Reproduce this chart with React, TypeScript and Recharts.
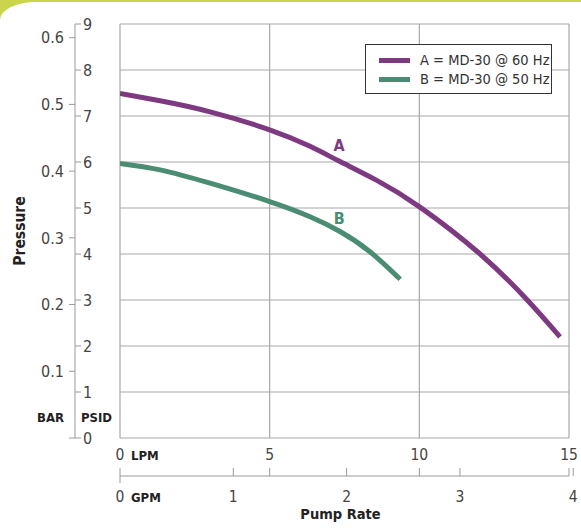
import React from 'react';
import {
  ComposedChart, Line, XAxis, YAxis, CartesianGrid, Legend, ReferenceDot,
} from 'recharts';

// ---- data ----
const lpmTicks = [0, 5, 10, 15];
const gpmTicks = [0, 1, 2, 3, 4];
const psiTicks = [0, 1, 2, 3, 4, 5, 6, 7, 8, 9];
const barTicks = [0, 0.1, 0.2, 0.3, 0.4, 0.5, 0.6];

const lpmA = [0, 1.34, 3.01, 5.0, 6.35, 7.35, 8.58, 10.02, 12.03, 13.59, 14.7];
const psiA = [7.49, 7.33, 7.09, 6.7, 6.34, 6.01, 5.6, 5.02, 4.0, 3.01, 2.2];

const lpmB = [0, 1.34, 3.01, 5.0, 6.35, 7.35, 8.35, 9.36];
const psiB = [5.97, 5.83, 5.54, 5.14, 4.81, 4.49, 4.05, 3.45];

const seriesNames = ['A = MD-30 @ 60 Hz', 'B = MD-30 @ 50 Hz'];
const curveLabels = ['A', 'B'];
const labelPos = [
  { lpm: 7.32, psi: 6.37 },
  { lpm: 7.32, psi: 4.78 },
];

const LPM_PER_GPM = 3.78541;
const PSI_PER_BAR = 14.5038;

const dataA = lpmA.map((l, i) => ({ lpm: l, psi: psiA[i] }));
const dataB = lpmB.map((l, i) => ({ lpm: l, psi: psiB[i] }));
const gpmAxisData = gpmTicks.map((g) => ({ gpm: g }));

const PURPLE = '#7d3a80';
const GREEN = '#4a8d72';
const AXIS = '#9a9a9a';
const TEXT = '#444';
const FONT = '"Liberation Sans Narrow", "Arial Narrow", "DejaVu Sans Condensed", sans-serif';

const PsiTick = (props: any) => {
  const { x, y, payload } = props;
  return (
    <g>
      <line x1={x - 45} x2={x - 39} y1={y} y2={y} stroke={AXIS} />
      <text x={x - 37} y={y + 6} fill={TEXT} fontSize={16} fontFamily={FONT} textAnchor="start">
        {payload.value}
      </text>
    </g>
  );
};

const LpmTick = (props: any) => {
  const { x, y, payload } = props;
  const v = payload.value;
  return (
    <g>
      <text x={x} y={y + 22} fill={TEXT} fontSize={15.5} fontFamily={FONT} textAnchor="middle">
        {v}
      </text>
      {v === 0 && (
        <text x={x + 11} y={y + 22} fill="#222" fontSize={13} fontWeight={700} fontFamily={FONT} textAnchor="start">
          LPM
        </text>
      )}
      {v !== 0 && <line x1={x} x2={x} y1={y + 30} y2={y + 38} stroke={AXIS} />}
    </g>
  );
};

const GpmTick = (props: any) => {
  const { x, y, payload } = props;
  const v = payload.value;
  return (
    <g>
      <line x1={x} x2={x} y1={y - 8} y2={v === 0 ? y + 7 : y} stroke={AXIS} />
      <text x={x} y={y + 25.5} fill={TEXT} fontSize={15.5} fontFamily={FONT} textAnchor="middle">
        {v}
      </text>
      {v === 0 && (
        <text x={x + 11} y={y + 25.5} fill="#222" fontSize={13} fontWeight={700} fontFamily={FONT} textAnchor="start">
          GPM
        </text>
      )}
    </g>
  );
};

const LegendBox = (props: any) => {
  const items = (props.payload || []).filter((p: any) => p.type !== 'none');
  return (
    <div
      style={{
        border: '1px solid #333',
        background: '#fff',
        width: 187,
        height: 50,
        padding: '6px 0 0 13px',
        boxSizing: 'border-box',
        fontFamily: FONT,
        fontSize: 14.5,
        color: '#333',
      }}
    >
      {items.map((p: any, i: number) => (
        <div key={i} style={{ height: 19, lineHeight: '19px', display: 'flex', alignItems: 'center', whiteSpace: 'nowrap' }}>
          <span style={{ display: 'inline-block', width: 31, height: 5, background: p.color, marginRight: 10 }} />
          <span>{p.value}</span>
        </div>
      ))}
    </div>
  );
};

export default function App() {
  return (
    <div style={{ position: 'absolute', left: 0, top: 0, width: 581, height: 529, background: '#c9d64b' }}>
      <div
        style={{
          position: 'absolute', left: 0, top: 2, width: 581, height: 527,
          background: '#fff', borderTopLeftRadius: '36px 18px',
        }}
      />
      <div style={{ position: 'absolute', left: 0, top: 0 }}>
        <ComposedChart width={581} height={529} margin={{ top: 24, right: 12, left: 0, bottom: 0 }}>
          <CartesianGrid xAxisId="a_lpm" yAxisId="a_psi" stroke="#a8a8a8" strokeWidth={1.2} />
          <XAxis
            xAxisId="b_gpm" type="number" dataKey="gpm" domain={[0, 15 / LPM_PER_GPM]} ticks={gpmTicks}
            interval={0} height={53} axisLine={{ stroke: AXIS }} tickLine={false} tickSize={0} tickMargin={0}
            allowDataOverflow tick={<GpmTick />}
            label={{
              content: (p: any) => {
                const vb = p.viewBox;
                return (
                  <text x={vb.x + vb.width / 2 - 4} y={vb.y + 43} textAnchor="middle" fontSize={14.5} fontWeight={700} fontFamily={FONT} fill="#222">
                    Pump Rate
                  </text>
                );
              },
            }}
          />
          <XAxis
            xAxisId="a_lpm" type="number" dataKey="lpm" domain={[0, 15]} ticks={lpmTicks}
            interval={0} height={38} axisLine={false} tickLine={false} tickSize={0} tickMargin={0}
            allowDataOverflow tick={<LpmTick />}
          />
          <YAxis
            yAxisId="b_bar" type="number" domain={[0, 9 / PSI_PER_BAR]} ticks={barTicks} interval={0} width={75}
            axisLine={{ stroke: AXIS }} tickLine={{ stroke: AXIS }} tickSize={6} tickMargin={5} allowDataOverflow
            tickFormatter={(v: number) => (v === 0 ? '' : v.toFixed(1))}
            tick={{ fill: TEXT, fontSize: 16, fontFamily: FONT }}
            label={{
              content: (p: any) => {
                const vb = p.viewBox;
                return (
                  <g>
                    <text x={vb.x + vb.width - 11} y={vb.y + vb.height - 16} textAnchor="end" fontSize={13} fontWeight={700} fontFamily={FONT} fill="#222">
                      BAR
                    </text>
                    <text
                      x={vb.x + 25} y={vb.y + vb.height / 2}
                      transform={`rotate(-90 ${vb.x + 25} ${vb.y + vb.height / 2})`}
                      textAnchor="middle" fontSize={15.5} fontWeight={700} fontFamily={FONT} fill="#222"
                    >
                      Pressure
                    </text>
                  </g>
                );
              },
            }}
          />
          <YAxis
            yAxisId="a_psi" type="number" domain={[0, 9]} ticks={psiTicks} interval={0} width={45}
            axisLine={false} tickLine={false} tickSize={0} tickMargin={0} allowDataOverflow tick={<PsiTick />}
            label={{
              content: (p: any) => {
                const vb = p.viewBox;
                return (
                  <text x={vb.x + 6} y={vb.y + vb.height - 16} textAnchor="start" fontSize={13} fontWeight={700} fontFamily={FONT} fill="#222">
                    PSID
                  </text>
                );
              },
            }}
          />
          <Legend
            layout="vertical" align="center" verticalAlign="middle"
            wrapperStyle={{ left: 365, top: 44, width: 187, height: 50 }}
            content={<LegendBox />}
          />
          <Line
            xAxisId="b_gpm" yAxisId="a_psi" data={gpmAxisData} dataKey="psi" legendType="none"
            stroke="none" dot={false} activeDot={false} isAnimationActive={false}
          />
          <Line
            xAxisId="a_lpm" yAxisId="a_psi" data={dataA} dataKey="psi" name={seriesNames[0]}
            type="natural" stroke={PURPLE} strokeWidth={5} dot={false} activeDot={false}
            isAnimationActive={false}
          />
          <Line
            xAxisId="a_lpm" yAxisId="a_psi" data={dataB} dataKey="psi" name={seriesNames[1]}
            type="natural" stroke={GREEN} strokeWidth={5} dot={false} activeDot={false}
            isAnimationActive={false}
          />
          <ReferenceDot
            xAxisId="a_lpm" yAxisId="a_psi" x={labelPos[0].lpm} y={labelPos[0].psi} r={0}
            fill="none" stroke="none"
            label={{ value: curveLabels[0], position: 'center', fill: PURPLE, fontSize: 16, fontWeight: 700, fontFamily: FONT }}
          />
          <ReferenceDot
            xAxisId="a_lpm" yAxisId="a_psi" x={labelPos[1].lpm} y={labelPos[1].psi} r={0}
            fill="none" stroke="none"
            label={{ value: curveLabels[1], position: 'center', fill: GREEN, fontSize: 16, fontWeight: 700, fontFamily: FONT }}
          />
        </ComposedChart>
      </div>
    </div>
  );
}
